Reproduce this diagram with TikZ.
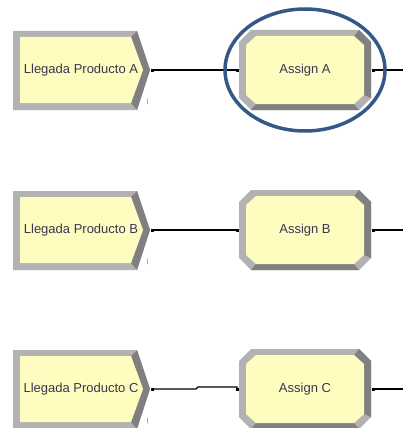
\documentclass[tikz,border=0pt]{standalone}
\usepackage{fontspec}
\setmainfont{Liberation Sans}

\begin{document}
\begin{tikzpicture}[x=1pt, y=-1pt, line cap=round,
		% Styles
		module text/.style={text=textcolor, font=\fontsize{13}{14}\selectfont, inner sep=0pt},
		light bevel/.style={fill=bevellight},
		dark bevel/.style={fill=beveldark},
		face/.style={fill=facecolor},
		connector/.style={line width=1.2pt, black}
		]
		
		% Colors
		\colorlet{facecolor}{yellow!25!white}
		\definecolor{bevellight}{RGB}{178,178,178}
		\definecolor{beveldark}{RGB}{128,128,128}
		\definecolor{textcolor}{RGB}{55,55,80}
		\definecolor{markcolor}{RGB}{150,170,215}
		\definecolor{ringcolor}{RGB}{52,88,136}
		
		\useasboundingbox (0, 0) rectangle (403, 428);
		
		% The modules: create (Llegada) and assign, one row each
		\foreach \c/\letter in {70/A, 230/B, 389/C} {
			% create module
			\fill[light bevel] (13, \c-39) -- (137, \c-39) -- (150, \c) -- (137, \c+40) -- (13, \c+40) -- cycle;
			\fill[dark bevel] (131, \c-33) -- (137, \c-39) -- (150, \c) -- (137, \c+40) -- (131, \c+33) -- (143, \c) -- cycle;
			\fill[face] (20, \c-33) -- (131, \c-33) -- (143, \c) -- (131, \c+33) -- (20, \c+33) -- cycle;
			\node[module text] (create\letter) at (81, \c) {Llegada Producto \letter};
			\draw[markcolor, line width=1pt] (147, \c+29) -- (147, \c+34);
			
			% assign module
			\fill[light bevel] (239, \c-28) -- (251, \c-40) -- (359, \c-40) -- (371, \c-28) -- (371, \c+28) -- (359, \c+40) -- (251, \c+40) -- (239, \c+28) -- cycle;
			\fill[dark bevel] (354, \c-34) -- (359, \c-40) -- (371, \c-28) -- (371, \c+28) -- (364, \c+25) -- (364, \c-25) -- cycle;
			\fill[dark bevel] (256, \c+34) -- (354, \c+34) -- (359, \c+40) -- (251, \c+40) -- cycle;
			\fill[face] (246, \c-25) -- (256, \c-34) -- (354, \c-34) -- (364, \c-25) -- (364, \c+25) -- (354, \c+34) -- (256, \c+34) -- (246, \c+25) -- cycle;
			\node[module text] (assign\letter) at (305, \c) {Assign \letter};
			
			% ports
			\coordinate (out\letter) at (152, \c);
			\coordinate (in\letter) at (237, \c);
			\coordinate (next\letter) at (373, \c);
			\coordinate (edge\letter) at (403, \c);
		}
		
		% Connectors
		\draw[connector] (outA) -- (inA);
		\draw[connector] (outB) -- (inB);
		\draw[connector] (outC) -- ++(44, 0) -- ++(2, -2) -| (inC);
		\foreach \letter in {A, B, C} {
			\draw[connector] (next\letter) -- (edge\letter);
			\fill (out\letter) ++(-1.5, -1.5) rectangle ++(3, 3);
			\fill (in\letter) ++(-1.5, -1.5) rectangle ++(3, 3);
			\fill (next\letter) ++(-1.5, -1.5) rectangle ++(3, 3);
		}
		
		% Highlight round Assign A
		\draw[ringcolor, line width=3.5pt] (assignA) ellipse [x radius=80, y radius=61];
		
	\end{tikzpicture}
\end{document}
